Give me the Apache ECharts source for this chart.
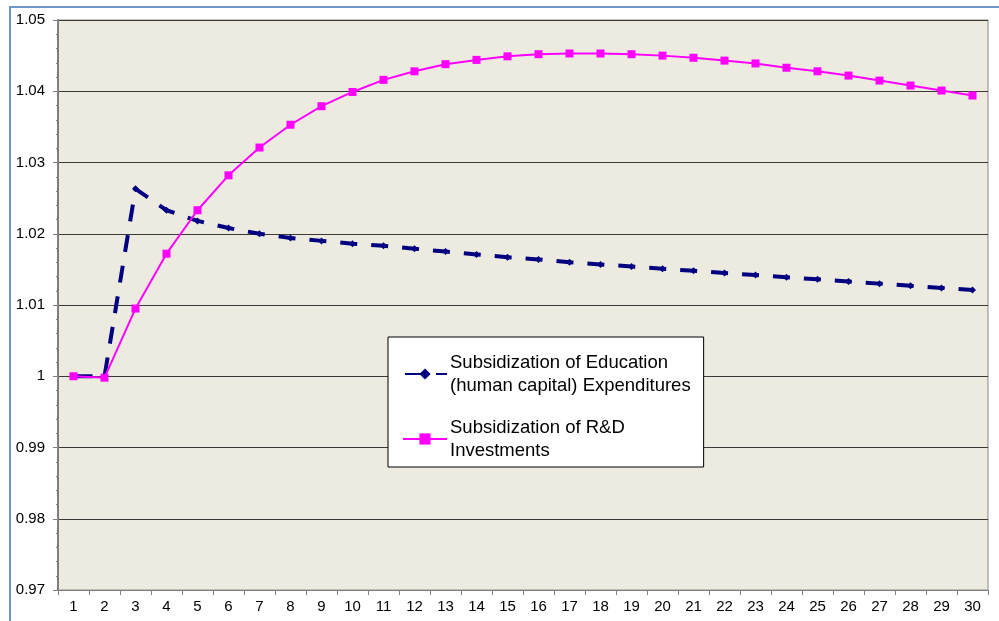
<!DOCTYPE html>
<html>
<head>
<meta charset="utf-8">
<script src="https://cdn.jsdelivr.net/npm/echarts@6/dist/echarts.min.js"></script>
<style>
html,body{margin:0;padding:0;background:#fff;}
#c{width:999px;height:621px;}
</style>
</head>
<body>
<div id="c"></div>
<script>
var categories = ['1','2','3','4','5','6','7','8','9','10','11','12','13','14','15','16','17','18','19','20','21','22','23','24','25','26','27','28','29','30'];
var educationValues = [1.0000,1.0000,1.0263,1.0233,1.0218,1.0208,1.0200,1.0194,1.0190,1.0186,1.0183,1.0179,1.0175,1.0171,1.0167,1.0164,1.0160,1.0157,1.0154,1.0151,1.0148,1.0145,1.0142,1.0139,1.0136,1.0133,1.0130,1.0127,1.0124,1.0121];
var rdValues = [1.0000,0.9998,1.0095,1.0172,1.0233,1.0282,1.0321,1.0353,1.0379,1.0399,1.0416,1.0428,1.0438,1.0444,1.0449,1.0452,1.0453,1.0453,1.0452,1.0450,1.0447,1.0443,1.0439,1.0433,1.0428,1.0422,1.0415,1.0408,1.0401,1.0394];
var seriesNames = ['Subsidization of Education\n(human capital) Expenditures','Subsidization of R&D\nInvestments'];

var chart = echarts.init(document.getElementById('c'), null, {renderer:'canvas'});
var font = '"Liberation Sans", Arial, sans-serif';
chart.setOption({
  animation:false,
  backgroundColor:'#fff',
  graphic:[{
    type:'rect', shape:{x:10,y:7,width:1000,height:700},
    style:{fill:null, stroke:'#6F95C9', lineWidth:2}, z:-1
  }],
  grid:{left:58, top:20, right:11, bottom:31, show:true, backgroundColor:'#EDEAE0', borderColor:'#8A8A8A', borderWidth:1},
  legend:{
    orient:'vertical', left:388, top:337,
    backgroundColor:'#fff', borderColor:'#000', borderWidth:1,
    padding:[16,13,7,14], itemGap:23, itemWidth:44, itemHeight:14,
    textStyle:{fontFamily:font, fontSize:18.5, lineHeight:23, color:'#000', verticalAlign:'top', padding:[-12,0,0,-2]},
    data:seriesNames
  },
  xAxis:{
    type:'category', data:categories, boundaryGap:true,
    axisLine:{lineStyle:{color:'#808080', width:1}},
    axisTick:{show:true, interval:0, length:5, lineStyle:{color:'#808080'}},
    axisLabel:{interval:0, margin:9, fontFamily:font, fontSize:15, color:'#000'},
    splitLine:{show:false}
  },
  yAxis:{
    type:'value', min:0.97, max:1.05, interval:0.01,
    axisLine:{show:true, lineStyle:{color:'#808080', width:2}},
    axisTick:{show:true, length:5, lineStyle:{color:'#808080'}},
    minorTick:{show:true, splitNumber:5, length:2, lineStyle:{color:'#808080'}},
    axisLabel:{margin:13, fontFamily:font, fontSize:15, color:'#000',
      formatter:function(v){ return String(Math.round(v*100)/100); }},
    splitLine:{show:true, lineStyle:{color:'#3a3a3a', width:1}}
  },
  series:[
    {
      name:seriesNames[0], type:'line', data:educationValues,
      symbol:'diamond', symbolSize:7, showSymbol:true,
      itemStyle:{color:'#000080'},
      lineStyle:{color:'#000080', width:4, type:[17,14], dashOffset:29},
      z:3
    },
    {
      name:seriesNames[1], type:'line', data:rdValues,
      symbol:'rect', symbolSize:8,
      itemStyle:{color:'#FF00FF'},
      lineStyle:{color:'#FF00FF', width:2},
      z:4
    }
  ]
});
</script>
</body>
</html>
